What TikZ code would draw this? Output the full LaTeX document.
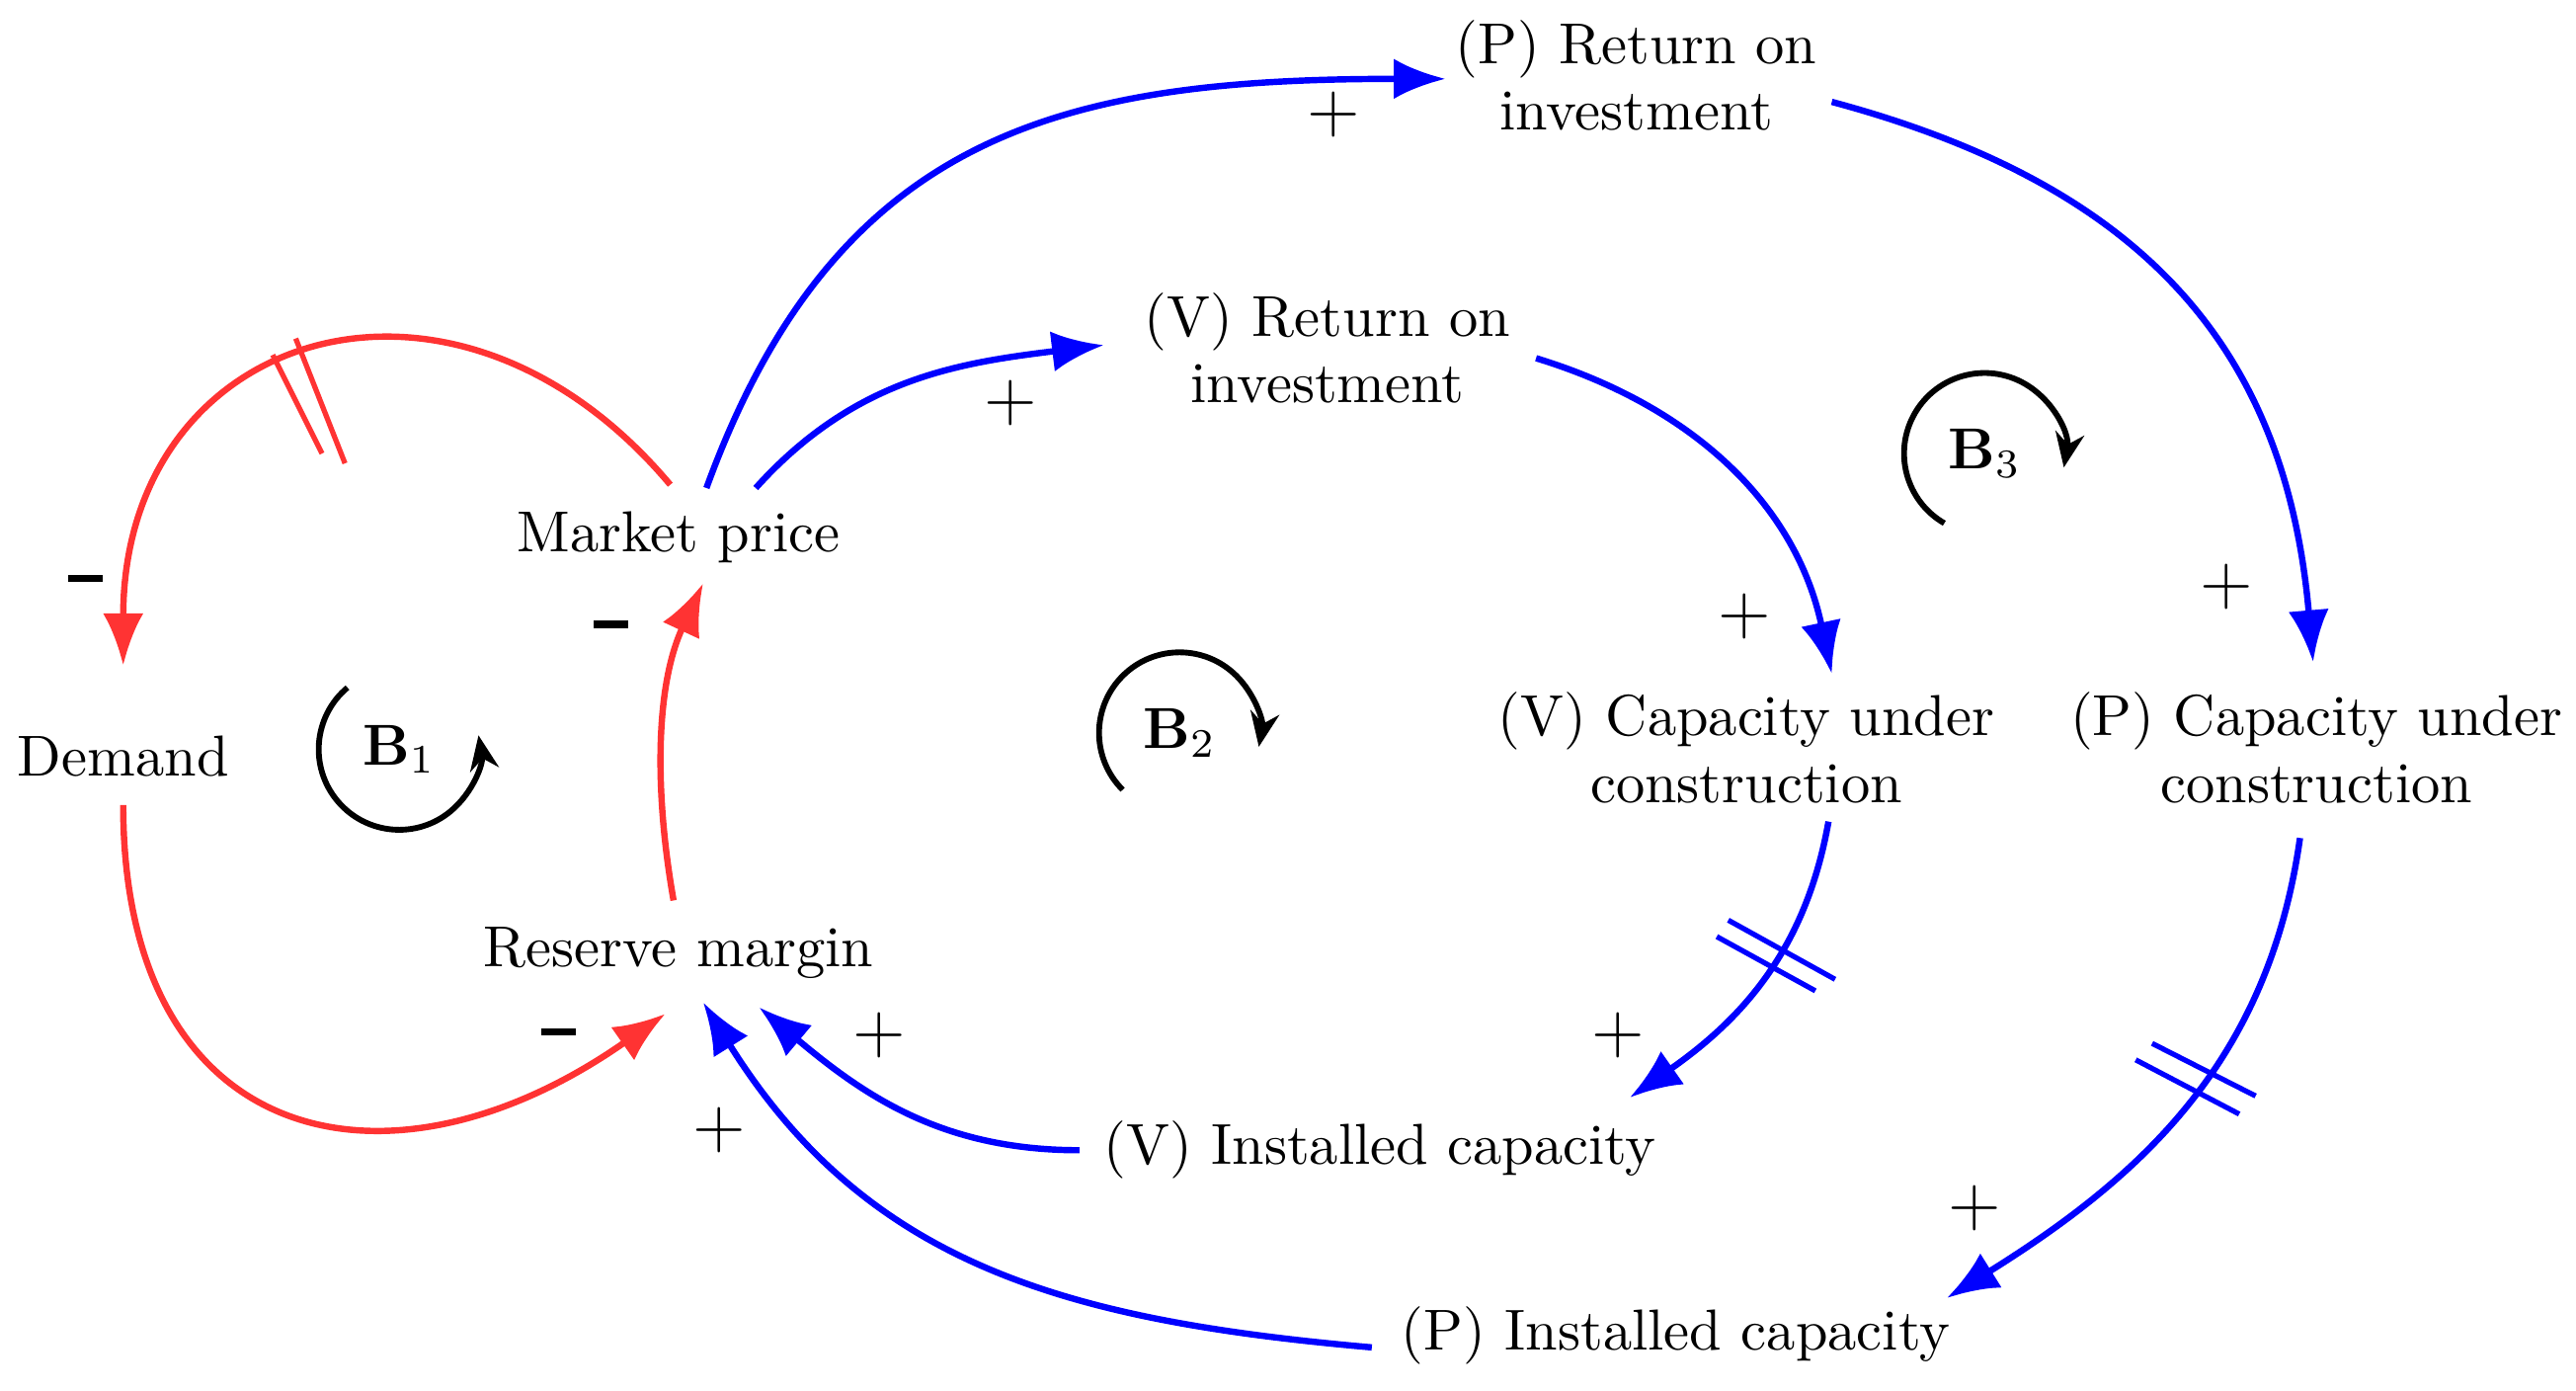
\documentclass[tikz,border=0pt]{standalone}
\usetikzlibrary{arrows.meta}
\begin{document}
\begin{tikzpicture}[x=0.01cm,y=-0.01cm,
  lbl/.style={align=center,inner sep=0pt,font=\fontsize{10}{11.5}\selectfont},
  sg/.style={inner sep=0pt,font=\fontsize{13}{13}\selectfont},
  red/.style={draw={rgb,255:red,255;green,51;blue,51},line width=1.1pt,-{Latex[length=9pt,width=7pt]}},
  blu/.style={draw=blue,line width=1.1pt,-{Latex[length=9pt,width=7pt]}},
  loopa/.style={line width=1pt,-{Stealth[length=6pt,width=5pt]}},
  dl/.style={line width=0.9pt}]
\useasboundingbox (0,0) rectangle (1568,846);
\node[lbl] (dem) at (75,460) {Demand};
\node[lbl] (mp) at (413,327) {Market price};
\node[lbl] (rm) at (413,580) {Reserve margin};
\node[lbl] (vroi) at (808,212) {(V) Return on\\investment};
\node[lbl] (proi) at (996,46) {(P) Return on\\investment};
\node[lbl] (vcuc) at (1063,455) {(V) Capacity under\\construction};
\node[lbl] (pcuc) at (1410,455) {(P) Capacity under\\construction};
\node[lbl] (vic) at (840,700) {(V) Installed capacity};
\node[lbl] (pic) at (1020,813) {(P) Installed capacity};
\node (b1) at (243,456) {$\mathbf{B}_1$};
\node (b2) at (718,446) {$\mathbf{B}_2$};
\node (b3) at (1208,276) {$\mathbf{B}_3$};
% loops
\draw[loopa] ([shift={(-130:49)}]b1.center) arc[start angle=-130,end angle=-370,radius=49];
\draw[loopa] ([shift={(-225:49)}]b2.center) arc[start angle=-225,end angle=10,radius=49];
\draw[loopa] ([shift={(-240:49)}]b3.center) arc[start angle=-240,end angle=10,radius=49];
% red
\coordinate (a1) at (408,295); \coordinate (e1) at (75,405);
\draw[red] (a1) to[out=130,in=90,looseness=1.5] (e1);
\coordinate (a2) at (75,490); \coordinate (e2) at (405,617);
\draw[red] (a2) to[out=-90,in=215,looseness=1.5] (e2);
\coordinate (a3) at (410,548); \coordinate (e3) at (428,355);
\draw[red] (a3) to[out=100,in=245,looseness=0.9] (e3);
% blue
\coordinate (a4) at (430,297); \coordinate (e4) at (880,48);
\draw[blu] (a4) to[out=70,in=180,looseness=1.15] (e4);
\coordinate (a5) at (460,297); \coordinate (e5) at (672,210);
\draw[blu] (a5) to[out=48,in=187] (e5);
\coordinate (a6) at (935,218); \coordinate (e6) at (1115,410);
\draw[blu] (a6) to[out=-17,in=102] (e6);
\coordinate (a7) at (1115,62); \coordinate (e7) at (1408,403);
\draw[blu] (a7) to[out=-15,in=95,looseness=1.1] (e7);
\coordinate (a8) at (1113,500); \coordinate (e8) at (992,668);
\draw[blu] (a8) to[out=-100,in=35] (e8);
\coordinate (a9) at (1400,510); \coordinate (e9) at (1185,790);
\draw[blu] (a9) to[out=-98,in=32] (e9);
\coordinate (a10) at (657,700); \coordinate (e10) at (462,613);
\draw[blu] (a10) to[out=180,in=-40] (e10);
\coordinate (a11) at (835,820); \coordinate (e11) at (428,610);
\draw[blu] (a11) to[out=175,in=-58,looseness=1.05] (e11);
% delay marks
\draw[dl,draw={rgb,255:red,255;green,51;blue,51}] (166,216)--(196,276) (180,206)--(210,282);
\draw[dl,blue] (1045,570)--(1105,603) (1052,560)--(1117,596);
\draw[dl,blue] (1300,645)--(1363,678) (1310,635)--(1373,667);
% signs
\foreach \n/\x/\y in {m1/52/352,m2/372/380,m3/340/628}\node[inner sep=0pt] (\n) at (\x,\y) {\rule{6pt}{1.3pt}};
\foreach \n/\x/\y in {p1/812/70,p2/615/245,p3/1062/375,p4/1355/357,p5/535/630,p6/438/688,p7/985/630,p8/1202/735}\node[sg] (\n) at (\x,\y) {$+$};
\end{tikzpicture}
\end{document}
